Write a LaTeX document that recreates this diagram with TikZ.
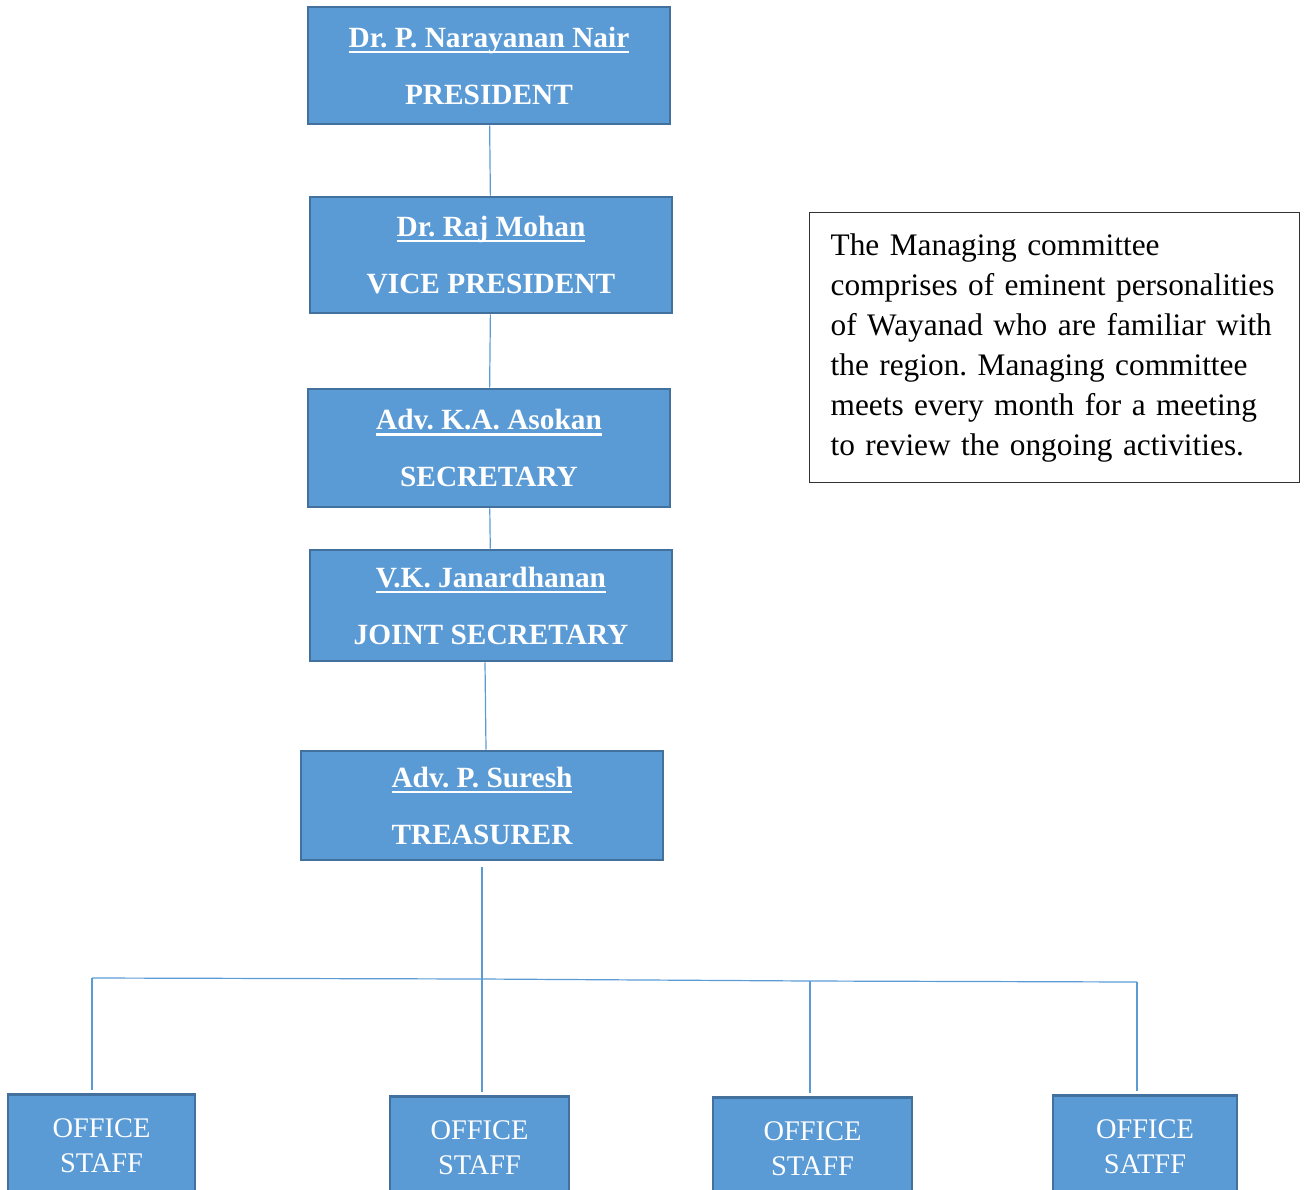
\documentclass[tikz,border=0pt]{standalone}
\usepackage{fontspec}
\setmainfont{Liberation Serif}
\usepackage{tikz}
\frenchspacing
\definecolor{boxblue}{HTML}{5B9BD5}
\definecolor{edgeblue}{HTML}{41719C}
\newcommand\uname[1]{\setbox0\hbox{#1}\rlap{\rule[-4.5pt]{\wd0}{1.6pt}}\box0}
\tikzset{every picture/.style = {x=0.75pt, y=-0.75pt}}
\tikzset{officer/.style = {draw=edgeblue, line width=2.1pt, fill=boxblue, text=white, align=center,
  font=\fontsize{22}{42.75}\selectfont\bfseries, minimum width=271.5pt, inner sep=0pt}}
\tikzset{staff/.style = {draw=edgeblue, line width=2.1pt, fill=boxblue, text=white, align=center,
  font=\fontsize{21.3}{26.25}\selectfont, minimum height=76.5pt, inner sep=0pt, anchor=north}}
\tikzset{note/.style = {draw=black!80, line width=1pt, align=left, text width=336pt, inner xsep=15.75pt,
  minimum height=202.5pt, font=\fontsize{23.5}{30}\selectfont, anchor=north west}}
\tikzset{link/.style = {draw=boxblue, line width=0.9pt}}

\begin{document}
\begin{tikzpicture}
  \useasboundingbox (0, 0) rectangle (1306, 1189);
  \clip (0, 0) rectangle (1306, 1189);
  % committee
  \node[officer, minimum height=87.75pt] (pres) at (489, 65.5) {\uname{Dr. P. Narayanan Nair}\\PRESIDENT};
  \node[officer, minimum height=87pt] (vp) at (491, 255) {\uname{Dr. Raj Mohan}\\VICE PRESIDENT};
  \node[officer, minimum height=88.5pt] (secy) at (489, 448) {\uname{Adv. K.A. Asokan}\\SECRETARY};
  \node[officer, minimum height=83.25pt] (jsecy) at (491, 605.5) {\uname{V.K. Janardhanan}\\JOINT SECRETARY};
  \node[officer, minimum height=81.75pt] (treas) at (482, 805.5) {\uname{Adv. P. Suresh}\\TREASURER};
  \node[note] (remark) at (809, 212) {The Managing committee\\
    comprises of eminent personalities\\
    of Wayanad who are familiar with\\
    the region. Managing committee\\
    meets every month for a meeting\\
    to review the ongoing activities.};
  % staff
  \node[staff, minimum width=140.25pt] (staffA) at (101.5, 1093) {OFFICE\\STAFF};
  \node[staff, minimum width=134.25pt] (staffB) at (479.5, 1095) {OFFICE\\STAFF};
  \node[staff, minimum width=149.25pt] (staffC) at (812.5, 1096) {OFFICE\\STAFF};
  \node[staff, minimum width=138pt] (staffD) at (1145, 1094) {OFFICE\\SATFF};
  \coordinate (busA) at (92, 978);
  \coordinate (busB) at (482, 979);
  \coordinate (busC) at (810, 981);
  \coordinate (busD) at (1137, 982);
  % links
  \draw[link] (pres) -- (vp);
  \draw[link] (vp) -- (secy);
  \draw[link] (secy) -- (jsecy);
  \draw[link] ([xshift=-4.5pt]jsecy.south) -- ([xshift=3pt]treas.north);
  \draw[link, shorten <=4pt] (treas.south) -- (busB);
  \draw[link] (busA) -- (busB) -- (busC) -- (busD);
  \draw[link, shorten >=2pt] (busA) -- (busA |- staffA.north);
  \draw[link, shorten >=2pt] (busB) -- (busB |- staffB.north);
  \draw[link, shorten >=2pt] (busC) -- (busC |- staffC.north);
  \draw[link, shorten >=2pt] (busD) -- (busD |- staffD.north);
\end{tikzpicture}
\end{document}
